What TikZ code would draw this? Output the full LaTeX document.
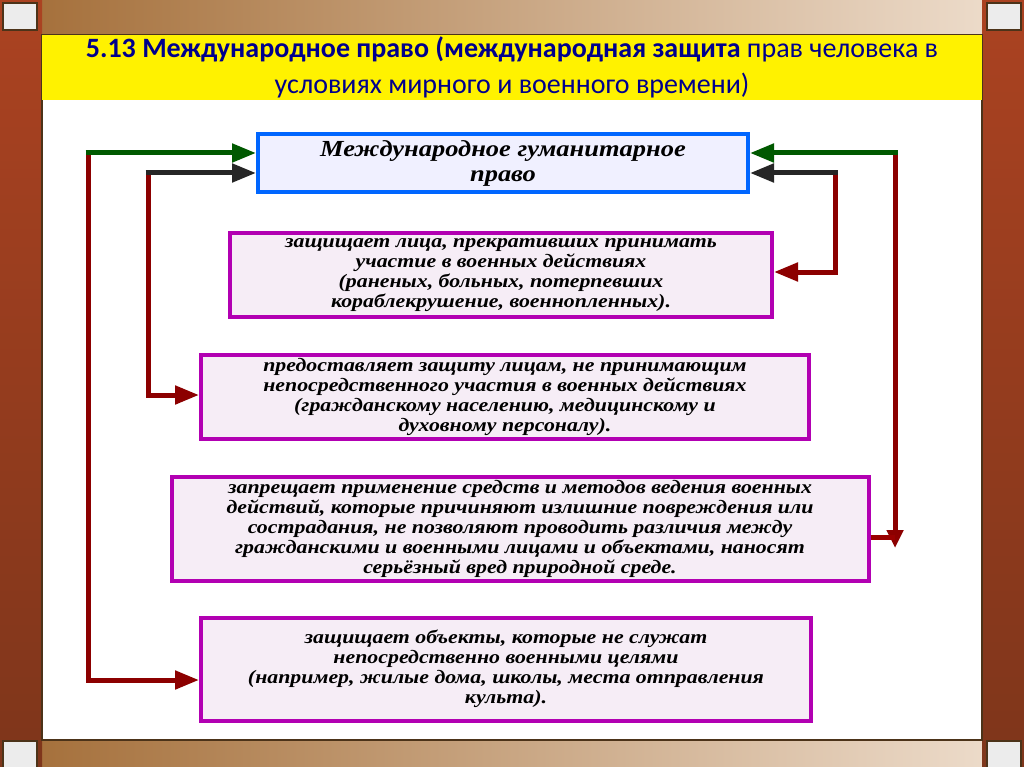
\documentclass[tikz,border=0pt]{standalone}
\usepackage{fontspec}
\setmainfont{Liberation Serif}
\newfontfamily\boxfont[FakeStretch=1.15]{Liberation Serif}
\newfontfamily\titlefont{Carlito}
\usetikzlibrary{arrows.meta}
\begin{document}
\begin{tikzpicture}[x=1pt,y=-1pt,
 box/.style={draw=violet!60!magenta, line width=4pt, fill=white!93!violet, align=center, font=\boxfont\fontsize{19}{20}\selectfont\bfseries\itshape, inner sep=3pt},
 con/.style={line width=5pt, draw=red!55!black, -{Triangle[length=24pt,width=18pt]}},
 cong/.style={line width=5pt, draw=green!35!black}]
\useasboundingbox (0,0) rectangle (1024,767);
% frame
\shade[left color=brown!85!black, right color=brown!25!white] (0,0) rectangle (1024,767);
\shade[top color=red!35!brown!80!black, bottom color=red!30!brown!60!black] (0,0) rectangle (42,767);
\shade[top color=red!35!brown!80!black, bottom color=red!30!brown!60!black] (982,0) rectangle (1024,767);
\fill[white] (42,35) rectangle (982,740);
\foreach \cx/\cy in {0/0,984/0,0/738,984/738}{
 \draw[brown!40!black, line width=2pt, fill=gray!15] (\cx+3,\cy+3) rectangle (\cx+37,\cy+30);}
\draw[brown!40!black, line width=1.5pt] (42,35) rectangle (982,740);
\fill[yellow] (42,35) rectangle (982,100);
\node[font=\titlefont\fontsize{28}{36}\selectfont, text=blue!55!black, align=center] (title) at (512,67)
 {\textbf{5.13 Международное право (международная защита} прав человека в\\ условиях мирного и военного времени)};
% boxes
\node[box, draw=blue!60!cyan, fill=blue!6, minimum width=490pt, minimum height=58pt, font=\boxfont\fontsize{23}{25}\selectfont\bfseries\itshape] (b1) at (503,163)
 {Международное гуманитарное\\ право};
\node[box, minimum width=542pt, minimum height=84pt] (b2) at (501,275)
 {защищает лица, прекративших принимать\\ участие в военных действиях\\ (раненых, больных, потерпевших\\ кораблекрушение, военнопленных).};
\node[box, minimum width=608pt, minimum height=84pt] (b3) at (505,397)
 {предоставляет защиту лицам, не принимающим\\ непосредственного участия в военных действиях\\ (гражданскому населению, медицинскому и\\ духовному персоналу).};
\node[box, minimum width=697pt, minimum height=102pt] (b4) at (520,529)
 {запрещает применение средств и методов ведения военных\\ действий, которые причиняют излишние повреждения или\\ сострадания, не позволяют проводить различия между\\ гражданскими и военными лицами и объектами, наносят\\ серьёзный вред природной среде.};
\node[box, minimum width=610pt, minimum height=103pt] (b5) at (506,669)
 {защищает объекты, которые не служат\\ непосредственно военными целями\\ (например, жилые дома, школы, места отправления\\ культа).};
% connectors
\coordinate (lo1) at (88,153); \coordinate (lo2) at (88,680);
\coordinate (li1) at (148,173); \coordinate (li2) at (148,395);
\coordinate (ri1) at (835,173); \coordinate (ri2) at (835,272);
\coordinate (ro1) at (895,153); \coordinate (ro2) at (895,548); \coordinate (ro3) at (895,537);
\draw[con] (lo1) -- (lo2) -- (b5.west |- lo2);
\draw[con] (li1) -- (li2) -- (b3.west |- li2);
\draw[con] (ri1) -- (ri2) -- (b2.east |- ri2);
\draw[con, -{Triangle[length=18pt,width=16pt]}] (ro1) -- (ro2);
\draw[line width=5pt, red!60!black] (b4.east |- ro3) -- (ro3);
\draw[cong, -{Triangle[length=24pt,width=18pt]}] ([xshift=-2.5pt]lo1) -- (b1.west |- lo1);
\draw[cong, draw=black!85, -{Triangle[length=24pt,width=18pt]}] ([xshift=-2.5pt]li1) -- (b1.west |- li1);
\draw[cong, draw=black!85, -{Triangle[length=24pt,width=18pt]}] ([xshift=2.5pt]ri1) -- (b1.east |- ri1);
\draw[cong, -{Triangle[length=24pt,width=18pt]}] ([xshift=2.5pt]ro1) -- (b1.east |- ro1);
\end{tikzpicture}
\end{document}
